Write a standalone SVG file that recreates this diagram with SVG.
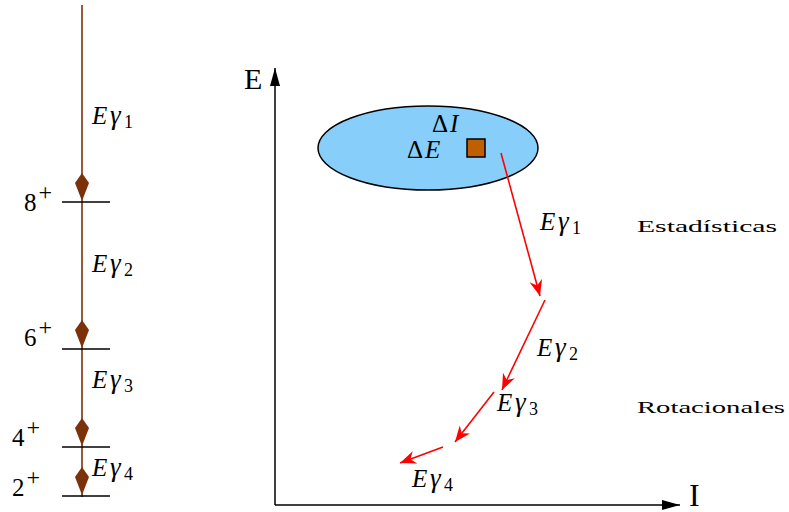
<svg xmlns="http://www.w3.org/2000/svg" width="789" height="512" viewBox="0 0 789 512">
<style>
text{font-family:"Liberation Serif","DejaVu Serif",serif;fill:#000}
.m{font-style:italic;font-size:25px}
.g{font-style:italic;font-size:27px}
.sub{font-style:normal;font-size:18px}
.r{font-size:25px}
.sup{font-size:24px}
.sm{font-size:16px}
.lvl{stroke:#000;stroke-width:1.5}
.br{stroke:#7b320a;stroke-width:1.6;fill:none}
.red{stroke:#ff0000;stroke-width:1.6;fill:none;marker-end:url(#ra)}
.axl{stroke:#000;stroke-width:1.5;fill:none}
</style>
<defs>
<marker id="ra" markerUnits="userSpaceOnUse" viewBox="-16 -7 18 14" refX="0" refY="0" markerWidth="18" markerHeight="14" orient="auto">
<path d="M0,0 L-16,-6.5 L-11,0 L-16,6.5 Z" fill="#ff0000"/>
</marker>
<marker id="ka" markerUnits="userSpaceOnUse" viewBox="-18 -6 20 12" refX="0" refY="0" markerWidth="20" markerHeight="12" orient="auto">
<path d="M0,0 L-18,-5 L-18,5 Z" fill="#000"/>
</marker>
<polygon id="dia" points="0,-28 7,-18 0,0 -7,-18" fill="#7b320a"/>
</defs>

<g id="spectrum">
<line class="br" x1="82" y1="5" x2="82" y2="497"/>
<line class="lvl" x1="62" y1="202" x2="110" y2="202"/>
<line class="lvl" x1="62" y1="349" x2="110" y2="349"/>
<line class="lvl" x1="62" y1="447" x2="110" y2="447"/>
<line class="lvl" x1="62" y1="496" x2="110" y2="496"/>
<use href="#dia" x="82" y="201"/>
<use href="#dia" x="82" y="348"/>
<use href="#dia" x="82" y="446"/>
<use href="#dia" x="82" y="495"/>
<text class="r" x="24" y="211">8<tspan class="sup" dx="2" dy="-11">+</tspan></text>
<text class="r" x="24" y="346">6<tspan class="sup" dx="2" dy="-11">+</tspan></text>
<text class="r" x="12" y="446">4<tspan class="sup" dx="2" dy="-11">+</tspan></text>
<text class="r" x="12" y="496">2<tspan class="sup" dx="2" dy="-11">+</tspan></text>
<text class="m" x="92" y="124">E<tspan class="g" x="110">γ</tspan><tspan class="sub" x="124" dy="4">1</tspan></text>
<text class="m" x="92" y="272">E<tspan class="g" x="110">γ</tspan><tspan class="sub" x="124" dy="4">2</tspan></text>
<text class="m" x="92" y="388">E<tspan class="g" x="110">γ</tspan><tspan class="sub" x="124" dy="4">3</tspan></text>
<text class="m" x="92" y="476">E<tspan class="g" x="110">γ</tspan><tspan class="sub" x="124" dy="4">4</tspan></text>
</g>

<g id="axes">
<line class="axl" x1="275" y1="505" x2="275" y2="68" marker-end="url(#ka)"/>
<line class="axl" x1="275" y1="505" x2="680" y2="505" marker-end="url(#ka)"/>
<text x="244" y="89" font-size="30">E</text>
<text x="689" y="506" font-size="32">I</text>
</g>

<g id="region">
<ellipse cx="428" cy="148" rx="110" ry="42" fill="#87cefa" stroke="#000" stroke-width="1.5"/>
<text class="m" x="432" y="132"><tspan font-style="normal">Δ</tspan><tspan dx="2">I</tspan></text>
<text class="m" x="407" y="158"><tspan font-style="normal">Δ</tspan><tspan dx="2">E</tspan></text>
<rect x="467" y="139" width="18" height="18" fill="#c05f00" stroke="#000" stroke-width="1.5"/>
</g>

<g id="connectors">
<line class="red" x1="501" y1="153" x2="540" y2="296"/>
<line class="red" x1="545" y1="300" x2="502" y2="390"/>
<line class="red" x1="494" y1="392" x2="455" y2="442"/>
<line class="red" x1="443" y1="447" x2="400" y2="463"/>
</g>

<g id="labels">
<text class="m" x="540" y="230">E<tspan class="g" x="558">γ</tspan><tspan class="sub" x="572" dy="4">1</tspan></text>
<text class="m" x="537" y="356">E<tspan class="g" x="555">γ</tspan><tspan class="sub" x="569" dy="4">2</tspan></text>
<text class="m" x="497" y="411">E<tspan class="g" x="515">γ</tspan><tspan class="sub" x="529" dy="4">3</tspan></text>
<text class="m" x="412" y="487">E<tspan class="g" x="430">γ</tspan><tspan class="sub" x="444" dy="4">4</tspan></text>
<text class="sm" x="637" y="232" textLength="140" lengthAdjust="spacingAndGlyphs">Estadísticas</text>
<text class="sm" x="637" y="413" textLength="148" lengthAdjust="spacingAndGlyphs">Rotacionales</text>
</g>
</svg>
